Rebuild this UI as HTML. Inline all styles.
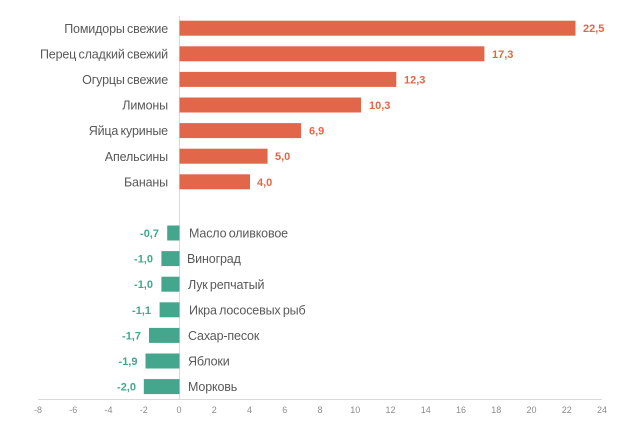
<!DOCTYPE html>
<html><head><meta charset="utf-8"><style>
html,body{margin:0;padding:0;background:#fff;}
svg{display:block;}
.c{font-family:"Liberation Sans",Arial,sans-serif;font-size:12.5px;fill:#595959;letter-spacing:-0.15px;word-spacing:-1px;}
.vo{font-family:"Liberation Sans",Arial,sans-serif;font-size:11px;font-weight:bold;fill:#E2674A;}
.vt{font-family:"Liberation Sans",Arial,sans-serif;font-size:11px;font-weight:bold;fill:#45A68E;}
.t{font-family:"Liberation Sans",Arial,sans-serif;font-size:9px;fill:#8c8c8c;text-anchor:middle;}
</style></head><body>
<svg width="642" height="423" viewBox="0 0 642 423" xmlns="http://www.w3.org/2000/svg">
<rect width="642" height="423" fill="#fff"/>
<line x1="38" y1="399.5" x2="602" y2="399.5" stroke="#d9d9d9" stroke-width="1"/>
<line x1="179.5" y1="16" x2="179.5" y2="400" stroke="#d9d9d9" stroke-width="1"/>
<g fill="#E2674A">
<rect x="179.5" y="20.7" width="396" height="15"/>
<rect x="179.5" y="46.3" width="304.9" height="15"/>
<rect x="179.5" y="71.9" width="216.8" height="15"/>
<rect x="179.5" y="97.5" width="181.5" height="15"/>
<rect x="179.5" y="123.1" width="121.6" height="15"/>
<rect x="179.5" y="148.7" width="88.1" height="15"/>
<rect x="179.5" y="174.3" width="70.5" height="15"/>
</g>
<g fill="#45A68E">
<rect x="167.2" y="225.5" width="12.3" height="15"/>
<rect x="161.4" y="251.1" width="18.1" height="15"/>
<rect x="161.4" y="276.7" width="18.1" height="15"/>
<rect x="159.6" y="302.3" width="19.9" height="15"/>
<rect x="149.0" y="327.9" width="30.5" height="15"/>
<rect x="145.5" y="353.5" width="34" height="15"/>
<rect x="143.8" y="379.1" width="35.7" height="15"/>
</g>
<g class="c" text-anchor="end">
<text x="168" y="32.8">Помидоры свежие</text>
<text x="168" y="58.4">Перец сладкий свежий</text>
<text x="168" y="84.0">Огурцы свежие</text>
<text x="168" y="109.6">Лимоны</text>
<text x="168" y="135.2">Яйца куриные</text>
<text x="168" y="160.8">Апельсины</text>
<text x="168" y="186.4">Бананы</text>
</g>
<g class="c">
<text x="189" y="237.6">Масло оливковое</text>
<text x="187" y="263.2">Виноград</text>
<text x="188" y="288.8">Лук репчатый</text>
<text x="189" y="314.4">Икра лососевых рыб</text>
<text x="188" y="340.0">Сахар-песок</text>
<text x="188" y="365.6">Яблоки</text>
<text x="188" y="391.2">Морковь</text>
</g>
<g class="vo">
<text x="583" y="32.2">22,5</text>
<text x="492" y="57.8">17,3</text>
<text x="404" y="83.4">12,3</text>
<text x="369" y="109.0">10,3</text>
<text x="309" y="134.6">6,9</text>
<text x="275" y="160.2">5,0</text>
<text x="257" y="185.8">4,0</text>
</g>
<g class="vt" text-anchor="end">
<text x="159" y="237.0">-0,7</text>
<text x="153" y="262.6">-1,0</text>
<text x="153" y="288.2">-1,0</text>
<text x="151" y="313.8">-1,1</text>
<text x="141" y="339.4">-1,7</text>
<text x="137.5" y="365.0">-1,9</text>
<text x="136" y="390.6">-2,0</text>
</g>
<g class="t">
<text x="38" y="413">-8</text>
<text x="73.3" y="413">-6</text>
<text x="108.5" y="413">-4</text>
<text x="143.8" y="413">-2</text>
<text x="179" y="413">0</text>
<text x="214.3" y="413">2</text>
<text x="249.5" y="413">4</text>
<text x="284.8" y="413">6</text>
<text x="320" y="413">8</text>
<text x="355.3" y="413">10</text>
<text x="390.5" y="413">12</text>
<text x="425.8" y="413">14</text>
<text x="461" y="413">16</text>
<text x="496.3" y="413">18</text>
<text x="531.5" y="413">20</text>
<text x="566.8" y="413">22</text>
<text x="602" y="413">24</text>
</g>
</svg>
</body></html>
